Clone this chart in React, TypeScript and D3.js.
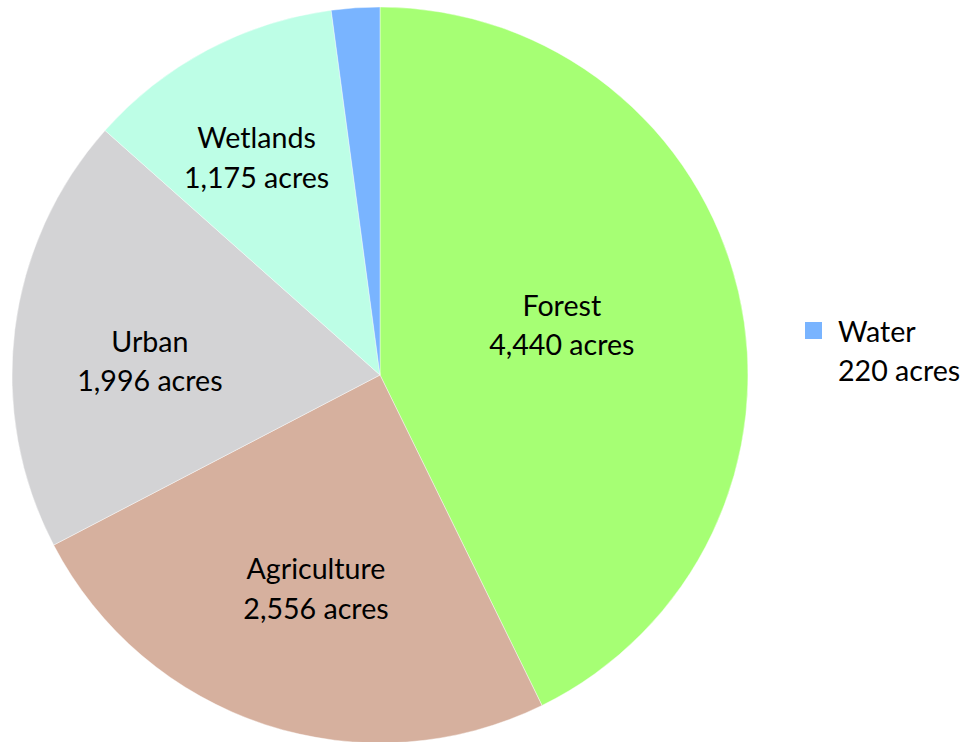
import React from "react";
import * as d3 from "d3";

const categories = ["Forest", "Agriculture", "Urban", "Wetlands", "Water"];
const values = [4440, 2556, 1996, 1175, 220];
const valueLabels = ["4,440 acres", "2,556 acres", "1,996 acres", "1,175 acres", "220 acres"];
const colors = ["#A6FF74", "#D6B09E", "#D3D3D5", "#BDFEE6", "#79B4FF"];

const W = 965;
const H = 742;
const cx = 380;
const cy = 375;
const R = 368;
const labelRadius = [0.51, 0.61, 0.63, 0.68, 0];
const labelDx = [-1, 6, 0, -6, 0];
const labelDy = [-8, 0, 14, 3, 0];
const FONT = "Lato, 'Open Sans', sans-serif";
const FS = 28.6;

export default function App() {
  const pie = d3.pie<number>().sort(null).value((d) => d)(values);
  const arc = d3.arc<d3.PieArcDatum<number>>().innerRadius(0).outerRadius(R);
  return (
    <svg width={W} height={H} style={{ position: "absolute", left: 0, top: 0 }}>
      <rect width={W} height={H} fill="#fff" />
      <g transform={`translate(${cx},${cy})`}>
        {pie.map((p, i) => (
          <path key={i} d={arc(p) || ""} fill={colors[i]} stroke="#fff" strokeWidth={0.7} strokeOpacity={0.6} />
        ))}
        {pie.map((p, i) => {
          if (i === 4) return null;
          const lr = d3.arc<d3.PieArcDatum<number>>().innerRadius(R * labelRadius[i] * 2).outerRadius(0);
          const [x0, y0] = lr.centroid(p);
          const x = x0 + labelDx[i];
          const y = y0 + labelDy[i];
          return (
            <text key={i} x={x} y={y} textAnchor="middle" fontFamily={FONT} fontSize={FS} fill="#000">
              <tspan x={x} dy={-9}>{categories[i]}</tspan>
              <tspan x={x} dy={39.5}>{valueLabels[i]}</tspan>
            </text>
          );
        })}
      </g>
      <g>
        <rect x={805} y={322} width={17} height={17} fill={colors[4]} />
        <text x={838} y={342} fontFamily={FONT} fontSize={FS} fill="#000">{categories[4]}</text>
        <text x={838} y={381} fontFamily={FONT} fontSize={FS} fill="#000">{valueLabels[4]}</text>
      </g>
    </svg>
  );
}
